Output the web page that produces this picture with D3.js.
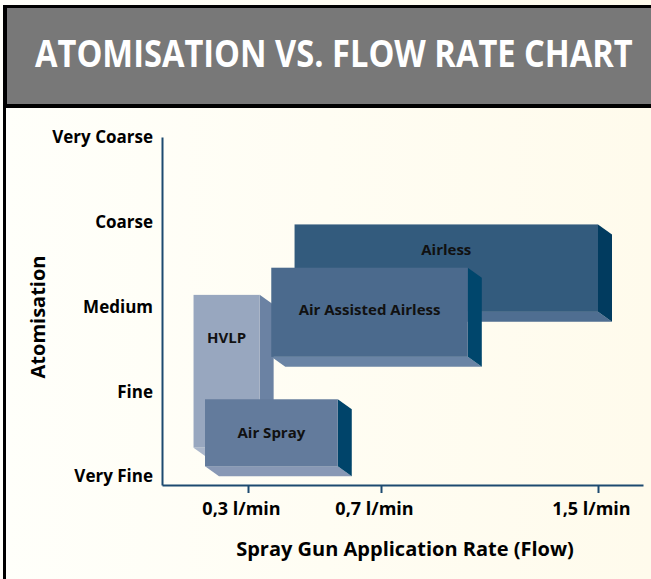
<!DOCTYPE html>
<html>
<head>
<meta charset="utf-8">
<script src="https://cdn.jsdelivr.net/npm/d3@7"></script>
<style>
  html, body { margin: 0; padding: 0; background: #fffdf3; }
  svg { display: block; }
  .axis path, .axis line { stroke: #1d4a70; stroke-width: 2; }
  .axis text { font-family: "Open Sans", sans-serif; font-weight: 700; font-size: 17px; fill: #000; }
  .xa text { font-size: 18px; }
</style>
</head>
<body>
<div id="chart"></div>
<script>
// atomisation levels (y) and flow ticks (x)
var levels = ["Very Fine", "Fine", "Medium", "Coarse", "Very Coarse"];
var flowTicks = [0.3, 0.7, 1.5];
var flowLabels = ["0,3 l/min", "0,7 l/min", "1,5 l/min"];

// spray methods: flow range (l/min) and atomisation range (level index)
var methods = ["Airless", "HVLP", "Air Assisted Airless", "Air Spray"];
var flowLow = [0.44, 0.11, 0.37, 0.15];
var flowHigh = [1.5, 0.335, 1.02, 0.57];
var atomLow = [1.94, 0.34, 1.41, 0.12];
var atomHigh = [2.97, 2.14, 2.46, 0.91];
var labelAt = [2.67, 1.63, 1.96, 0.52];

var frontColor = ["#335b7d", "#98a7bf", "#4b6a8d", "#637b9c"];
var sideColor = ["#013b5f", "#6b82a3", "#00466c", "#00446a"];
var bottomColor = ["#4f6e91", "#aab6ca", "#6a84a5", "#8898b5"];

var W = 651, H = 579;
var svg = d3.select("#chart").append("svg").attr("width", W).attr("height", H);

var defs = svg.append("defs");
var grad = defs.append("linearGradient").attr("id", "bg").attr("x1", 0).attr("x2", 1).attr("y1", 0).attr("y2", 0);
grad.append("stop").attr("offset", 0).attr("stop-color", "#fffffa");
grad.append("stop").attr("offset", 1).attr("stop-color", "#fffbec");
svg.append("rect").attr("width", W).attr("height", H).attr("fill", "url(#bg)");

// title box
svg.append("rect").attr("x", 3).attr("y", 5).attr("width", W).attr("height", 103).attr("fill", "#000");
svg.append("rect").attr("x", 7).attr("y", 8).attr("width", W).attr("height", 96).attr("fill", "#787878");
svg.append("line").attr("x1", 4.5).attr("y1", 5).attr("x2", 4.5).attr("y2", H).attr("stroke", "#000").attr("stroke-width", 3);
var title = svg.append("text").attr("x", 0).attr("y", 0)
  .style("font-family", "'Open Sans', sans-serif").style("font-weight", 700).style("font-size", "37px")
  .attr("fill", "#fff").text("ATOMISATION VS. FLOW RATE CHART");
var tw = title.node().getComputedTextLength();
title.attr("transform", "translate(35,67) scale(" + (598 / tw) + ",1)");

// scales
var x = d3.scaleLinear().domain([0, 0.3, 0.7, 1.5, 1.67]).range([162, 248, 381, 598, 643]);
var y = d3.scaleLinear().domain([-0.1, 4]).range([485, 137]);

// bars with 3D extrusion
var dx = 14, dy = 10;
var bars = svg.append("g").selectAll("g").data(methods).enter().append("g");
bars.append("polygon")
  .attr("points", function (d, i) {
    var x0 = x(flowLow[i]), x1 = x(flowHigh[i]), yb = y(atomLow[i]);
    return [[x0, yb], [x1, yb], [x1 + dx, yb + dy], [x0 + dx, yb + dy]].join(" ");
  })
  .attr("fill", function (d, i) { return bottomColor[i]; });
bars.append("polygon")
  .attr("points", function (d, i) {
    var x1 = x(flowHigh[i]), yt = y(atomHigh[i]), yb = y(atomLow[i]);
    return [[x1, yt], [x1 + dx, yt + dy], [x1 + dx, yb + dy], [x1, yb]].join(" ");
  })
  .attr("fill", function (d, i) { return sideColor[i]; });
bars.append("rect")
  .attr("x", function (d, i) { return x(flowLow[i]); })
  .attr("y", function (d, i) { return y(atomHigh[i]); })
  .attr("width", function (d, i) { return x(flowHigh[i]) - x(flowLow[i]); })
  .attr("height", function (d, i) { return y(atomLow[i]) - y(atomHigh[i]); })
  .attr("fill", function (d, i) { return frontColor[i]; });
bars.append("text")
  .attr("x", function (d, i) { return (x(flowLow[i]) + x(flowHigh[i])) / 2; })
  .attr("y", function (d, i) { return y(labelAt[i]); })
  .attr("dy", "0.35em").attr("text-anchor", "middle")
  .style("font-family", "'Open Sans', sans-serif").style("font-weight", 700).style("font-size", "15px")
  .attr("fill", "#111").text(function (d) { return d; });

// axes
var yAxis = d3.axisLeft(y).tickValues([0, 1, 2, 3, 4]).tickFormat(function (i) { return levels[i]; })
  .tickSize(0).tickPadding(9);
svg.append("g").attr("class", "axis").attr("transform", "translate(162,0)").call(yAxis);

var xAxis = d3.axisBottom(x).tickValues(flowTicks).tickFormat(function (d, i) { return flowLabels[i]; })
  .tickSizeInner(8).tickSizeOuter(0).tickPadding(9);
var gx = svg.append("g").attr("class", "axis xa").attr("transform", "translate(0,485)").call(xAxis);
gx.selectAll("text").attr("dx", -7);

svg.append("text").attr("transform", "translate(45,317) rotate(-90)").attr("text-anchor", "middle")
  .style("font-family", "'Open Sans', sans-serif").style("font-weight", 700).style("font-size", "20px")
  .text("Atomisation");
svg.append("text").attr("x", 405).attr("y", 556).attr("text-anchor", "middle")
  .style("font-family", "'Open Sans', sans-serif").style("font-weight", 700).style("font-size", "20px")
  .text("Spray Gun Application Rate (Flow)");
</script>
</body>
</html>
